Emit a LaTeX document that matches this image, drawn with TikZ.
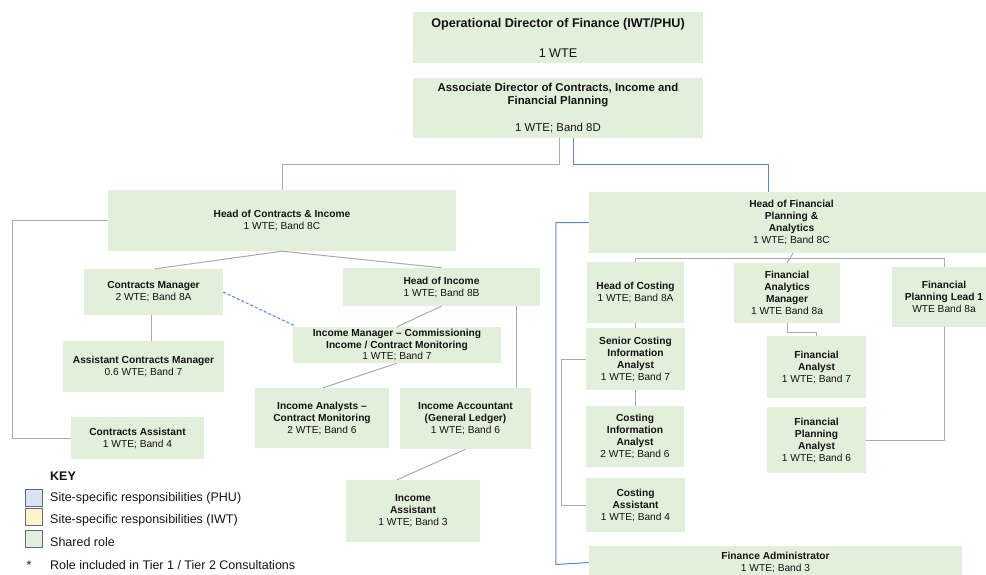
\documentclass[tikz,border=0pt]{standalone}
\usepackage{fontspec}
\setmainfont{Liberation Sans}
\usetikzlibrary{calc}
\definecolor{boxgreen}{RGB}{226,239,218}
\definecolor{phublue}{RGB}{218,227,243}
\definecolor{iwtyellow}{RGB}{255,242,204}
\definecolor{linegray}{RGB}{170,170,170}
\definecolor{lineblue}{RGB}{96,132,206}
\definecolor{dashblue}{RGB}{74,134,232}
\definecolor{keyborder}{RGB}{95,105,125}
\definecolor{txt}{RGB}{20,20,20}
\begin{document}
\begin{tikzpicture}[x=1pt,y=-1pt,
  box/.style={fill=boxgreen, inner sep=0pt, align=center, text=txt,
    font=\fontsize{10.2}{12}\selectfont},
  gl/.style={draw=linegray, line width=1pt},
  bl/.style={draw=lineblue, line width=1pt},
  bd/.style={draw=dashblue, line width=1pt, dash pattern=on 3pt off 2pt},
  keysq/.style={draw=keyborder, line width=0.9pt, minimum width=17pt, minimum height=17pt, inner sep=0pt},
  keytext/.style={anchor=base west, inner sep=0pt, text=txt, font=\fontsize{12.5}{15}\selectfont}
]
\useasboundingbox (0,0) rectangle (986,574);

% ---- boxes ----
\node[box, minimum width=290, minimum height=51, font=\fontsize{12.6}{15}\selectfont] (top) at (558,37.5)
  {\textbf{Operational Director of Finance (IWT/PHU)}\\[15pt]1 WTE};
\node[box, minimum width=290, minimum height=60, font=\fontsize{11.4}{13.5}\selectfont] (assoc) at (558,108)
  {\textbf{Associate Director of Contracts, Income and}\\\textbf{Financial Planning}\\[13.5pt]1 WTE; Band 8D};
\node[box, minimum width=348, minimum height=61] (hci) at (282,220.5)
  {\textbf{Head of Contracts \& Income}\\1 WTE; Band 8C};
\node[box, minimum width=139, minimum height=46] (cm) at (153.5,292)
  {\textbf{Contracts Manager}\\2 WTE; Band 8A};
\node[box, minimum width=197, minimum height=38] (hoi) at (441.5,287)
  {\textbf{Head of Income}\\1 WTE; Band 8B};
\node[box, minimum width=161, minimum height=51] (acm) at (143.5,366.5)
  {\textbf{Assistant Contracts Manager}\\0.6 WTE; Band 7};
\node[box, minimum width=133, minimum height=42] (ca) at (137.5,438)
  {\textbf{Contracts Assistant}\\1 WTE; Band 4};
\node[box, minimum width=208, minimum height=36, font=\fontsize{10.2}{11.5}\selectfont] (im) at (397,345)
  {\textbf{Income Manager -- Commissioning}\\\textbf{Income / Contract Monitoring}\\1 WTE; Band 7};
\node[box, minimum width=134, minimum height=60] (ian) at (322,418)
  {\textbf{Income Analysts --}\\\textbf{Contract Monitoring}\\2 WTE; Band 6};
\node[box, minimum width=131, minimum height=61] (iacc) at (465.5,418.5)
  {\textbf{Income Accountant}\\\textbf{(General Ledger)}\\1 WTE; Band 6};
\node[box, minimum width=134, minimum height=62] (iass) at (413,511)
  {\textbf{Income}\\\textbf{Assistant}\\1 WTE; Band 3};
\node[box, minimum width=405, minimum height=61] (hfp) at (791.5,222.5)
  {\textbf{Head of Financial}\\\textbf{Planning \&}\\\textbf{Analytics}\\1 WTE; Band 8C};
\node[box, minimum width=97, minimum height=61] (hc) at (635.5,292.5)
  {\textbf{Head of Costing}\\1 WTE; Band 8A};
\node[box, minimum width=106, minimum height=60] (fam) at (787,293)
  {\textbf{Financial}\\\textbf{Analytics}\\\textbf{Manager}\\1 WTE Band 8a};
\node[box, minimum width=104, minimum height=60] (fpl) at (944,297)
  {\textbf{Financial}\\\textbf{Planning Lead 1}\\WTE Band 8a};
\node[box, minimum width=99, minimum height=62] (sc) at (635.5,359)
  {\textbf{Senior Costing}\\\textbf{Information}\\\textbf{Analyst}\\1 WTE; Band 7};
\node[box, minimum width=98, minimum height=61] (cia) at (635,436.5)
  {\textbf{Costing}\\\textbf{Information}\\\textbf{Analyst}\\2 WTE; Band 6};
\node[box, minimum width=99, minimum height=54] (cas) at (635.5,505)
  {\textbf{Costing}\\\textbf{Assistant}\\1 WTE; Band 4};
\node[box, minimum width=99, minimum height=62] (fa) at (816.5,367)
  {\textbf{Financial}\\\textbf{Analyst}\\1 WTE; Band 7};
\node[box, minimum width=99, minimum height=66] (fpa) at (816.5,440)
  {\textbf{Financial}\\\textbf{Planning}\\\textbf{Analyst}\\1 WTE; Band 6};
\node[box, minimum width=373, minimum height=33] (fad) at (775.5,562.5)
  {\textbf{Finance Administrator}\\1 WTE; Band 3};

% ---- helper coordinates ----
\coordinate (gx) at (559,0);
\coordinate (bx) at (573,0);
\coordinate (ly) at (0,164);
\coordinate (hfpx) at (768,0);
\coordinate (cmx) at (151,0);
\coordinate (hx) at (516,0);

% ---- connectors ----
\draw[gl] (assoc.south -| gx) -- (gx |- ly) -| (hci.north);
\draw[bl] (assoc.south -| bx) -- (bx |- ly) -| (hfp.north -| hfpx);
\draw[gl] (hci.west) -- ++(-95,0) |- (ca.west);
\draw[gl] (hci.south) -- ($(cm.north)+(1.5,0)$);
\draw[gl] (hci.south) -- (hoi.north);
\draw[gl] (cm.south -| cmx) -- (acm.north -| cmx);
\draw[bd] (cm.east) -- ($(im.north west)+(2,-1)$);
\draw[gl] (hoi.south) -- (im.north);
\draw[gl] (hoi.south -| hx) -- (iacc.north -| hx);
\draw[gl] (im.south) -- ($(ian.north)+(1,0)$);
\draw[gl] (iacc.south) -- ($(iass.north)+(-16,0)$);
\draw[bl] (hfp.west) -- ++(-33,0) -- ++(0,342) -- (fad.west);
\draw[gl] (hc.north) -- ++(0,-3) -| (fpl.north);
\draw[gl] ($(hfp.south)+(1.5,0)$) -- (fam.north);
\draw[gl] (fam.south) -- ++(0,9) -| (fa.north);
\draw[gl] (hc.south) -- (sc.north);
\draw[gl] (sc.south) -- (sc.south |- cia.north);
\draw[gl] (sc.west) -- ++(-24,0) |- (cas.west);
\draw[gl] (fpl.south) |- (fpa.east);

% ---- key ----
\node[keytext, font=\fontsize{12.5}{15}\selectfont\bfseries] (key) at (50,480.5) {KEY};
\node[keysq, fill=phublue] (k1) at (33.5,498) {};
\node[keysq, fill=iwtyellow] (k2) at (33.5,517) {};
\node[keysq, fill=boxgreen] (k3) at (33.5,538.5) {};
\node[keytext] (t1) at (50,501.5) {Site-specific responsibilities (PHU)};
\node[keytext] (t2) at (50,523.5) {Site-specific responsibilities (IWT)};
\node[keytext] (t3) at (50,546.5) {Shared role};
\node[keytext] (star) at (26.5,569.5) {*};
\node[keytext] (t4) at (50,569.5) {Role included in Tier 1 / Tier 2 Consultations};
\end{tikzpicture}
\end{document}
